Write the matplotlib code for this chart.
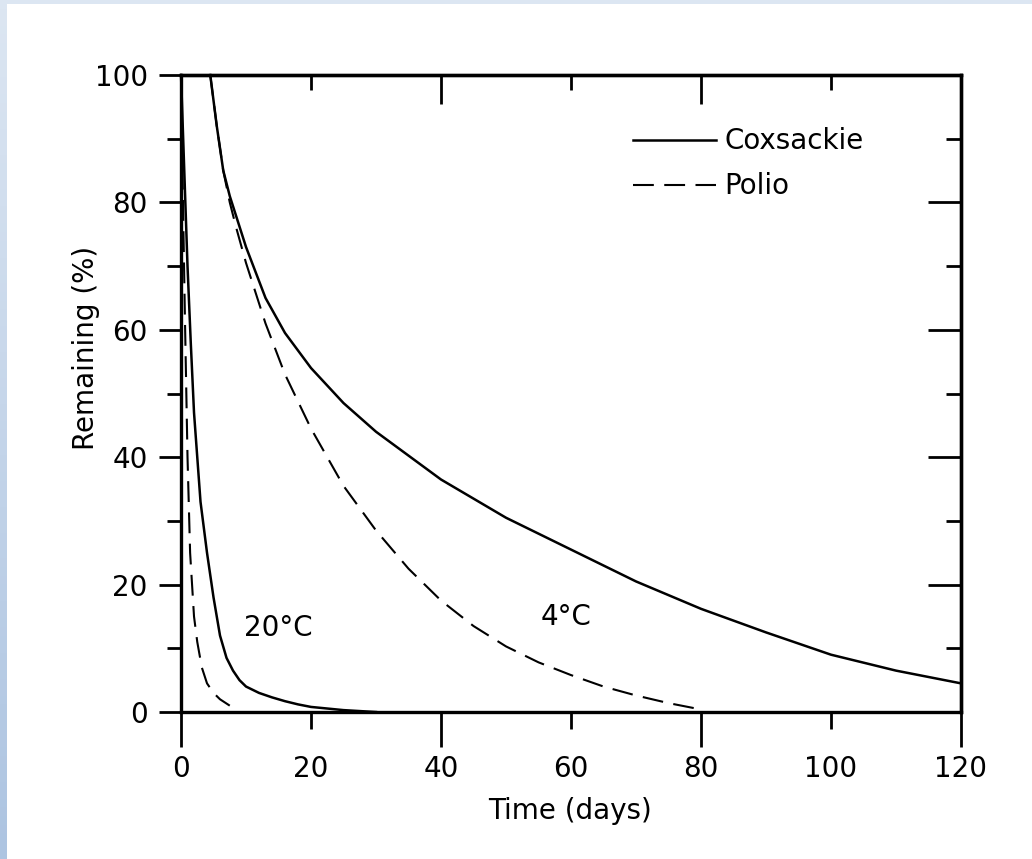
import numpy as np
import matplotlib
matplotlib.use("Agg")
import matplotlib.pyplot as plt

plt.rcParams['font.family'] = ['DejaVu Sans']

# Coxsackie / Polio survival (days, % remaining)
cox20_days = [0, 0.5, 1, 1.5, 2, 3, 4, 5, 6, 7, 8, 9, 10, 12, 14, 16, 18, 20, 25, 30]
cox20_pct = [100, 85, 70, 58, 47, 33, 25, 18, 12, 8.5, 6.5, 5, 4, 3, 2.3, 1.7, 1.2, 0.8, 0.3, 0]

polio20_days = [0, 0.3, 0.6, 1, 1.4, 2, 2.5, 3.2, 4, 5, 6, 7.5]
polio20_pct = [100, 80, 62, 40, 25, 15, 11, 7, 4.5, 3, 2, 1]

cox4_days = [4.5, 5.5, 6.5, 7.5, 10, 13, 16, 20, 25, 30, 40, 50, 60, 70, 80, 90, 100, 110, 120]
cox4_pct = [100, 92, 85, 81, 73, 65, 59.5, 54, 48.5, 44, 36.5, 30.5, 25.5, 20.5, 16.2, 12.5, 9, 6.5, 4.5]

polio4_days = [4.5, 5.5, 6.5, 7.5, 8.5, 10, 13, 16, 20, 25, 30, 35, 40, 45, 50, 55, 60, 65, 70, 75, 80]
polio4_pct = [100, 92, 85, 80, 76, 70.5, 61, 53, 44.5, 35.5, 28.5, 22.5, 17.5, 13.5, 10.3, 7.8, 5.8, 4, 2.6, 1.4, 0.4]

x_major = [0, 40, 80, 120]
x_minor = [20, 60, 100]
y_major = [0, 20, 40, 60, 80, 100]
y_minor = [10, 30, 50, 70, 90]

fig = plt.figure(figsize=(10.32, 8.59), dpi=100)
fig.patch.set_facecolor('white')

# slide background strips
strip = fig.add_axes([0, 0, 7 / 1032, 1])
strip.imshow(np.linspace(0, 1, 100).reshape(-1, 1), aspect='auto',
             cmap=matplotlib.colors.LinearSegmentedColormap.from_list('s', ['#dce6f2', '#adc4e1']))
strip.axis('off')
topstrip = fig.add_axes([0, 1 - 4 / 859, 1, 4 / 859])
topstrip.axis('off')
topstrip.add_patch(plt.Rectangle((0, 0), 1, 1, color='#dce6f2', transform=topstrip.transAxes))

ax = fig.add_axes([0.1754, 0.1711, 0.7558, 0.7416])
ax.plot(cox20_days, cox20_pct, color='black', lw=1.8, label='Coxsackie', clip_on=False)
ax.plot(cox4_days, cox4_pct, color='black', lw=1.8, clip_on=False)
ax.plot(polio20_days, polio20_pct, color='black', lw=1.5, ls=(0, (10, 5)), label='Polio', clip_on=False)
ax.plot(polio4_days, polio4_pct, color='black', lw=1.5, ls=(0, (10, 5)), clip_on=False)

ax.set_xlim(0, 120)
ax.set_ylim(0, 100)
for s in ax.spines.values():
    s.set_linewidth(2.4)

ax.set_xticks(x_major)
ax.set_xticks(x_minor, minor=True)
ax.set_xticklabels([str(v) for v in x_major], fontsize=20)
ax.set_xticklabels([str(v) for v in x_minor], minor=True, fontsize=20)
ax.tick_params(axis='x', which='major', direction='out', length=25, width=2, pad=6)
ax.tick_params(axis='x', which='minor', direction='out', length=12, width=2, pad=19)

ax.set_yticks(y_major)
ax.set_yticks(y_minor, minor=True)
ax.set_yticklabels([str(v) for v in y_major], fontsize=20)
ax.tick_params(axis='y', which='major', direction='out', length=16, width=2, pad=8)
ax.tick_params(axis='y', which='minor', direction='out', length=10, width=2)

top = ax.secondary_xaxis('top')
top.set_xticks([40, 80])
top.set_xticks([20, 60, 100], minor=True)
top.tick_params(which='major', direction='in', length=21, width=2, labeltop=False)
top.tick_params(which='minor', direction='in', length=11, width=2, labeltop=False)
top.spines['top'].set_linewidth(2.4)

right = ax.secondary_yaxis('right')
right.set_yticks([20, 40, 60, 80])
right.set_yticks(y_minor, minor=True)
right.tick_params(which='major', direction='in', length=24, width=2, labelright=False)
right.tick_params(which='minor', direction='in', length=11, width=2, labelright=False)
right.spines['right'].set_linewidth(2.4)

ax.set_xlabel('Time (days)', fontsize=20)
ax.xaxis.set_label_coords(0.499, -0.133)
ax.set_ylabel('Remaining (%)', fontsize=20)
ax.yaxis.set_label_coords(-0.104, 0.571)

ax.text(14.9, 13.2, '20°C', ha='center', va='center', fontsize=20)
ax.text(59.2, 14.9, '4°C', ha='center', va='center', fontsize=20)

ax.legend(loc='upper left', bbox_to_anchor=(0.5795, 0.918), frameon=False, fontsize=20,
          handlelength=3.0, handletextpad=0.3, labelspacing=0.62, borderpad=0, borderaxespad=0)

fig.savefig('out.png', dpi=100)
